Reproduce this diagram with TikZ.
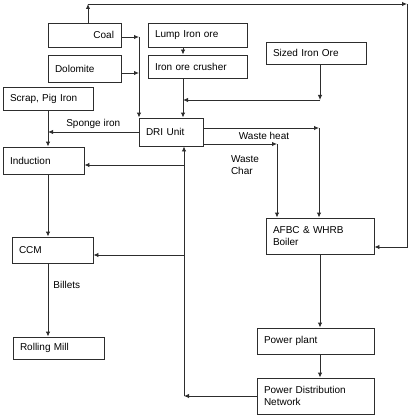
\documentclass[tikz,border=0pt]{standalone}
\usepackage{fontspec}
\setmainfont{Liberation Sans}
\usepackage{tikz}
\usetikzlibrary{positioning, arrows.meta, shapes}
\definecolor{tinta}{RGB}{45, 45, 45}
\tikzset{
    blk/.style={draw=tinta, rectangle, line width=0.9pt, inner xsep=7pt, inner ysep=0pt, align=left, text=black, font=\fontsize{10}{11.5}\selectfont},
    txt/.style={text=black, inner sep=1pt, align=left, font=\fontsize{10}{11.5}\selectfont},
    conn/.style={-{Latex[length=5pt,width=4.5pt]}, tinta, line width=0.9pt},
}
\begin{document}
\begin{tikzpicture}[x=1pt, y=-1pt]
        \useasboundingbox (0,0) rectangle (413,417);

        \node [blk, minimum width=73pt, minimum height=24pt, text width=59pt, align=right] (coal) at (84.5,35) {Coal};
        \node [blk, minimum width=73pt, minimum height=27pt, text width=59pt] (dolo) at (84.5,68.5) {Dolomite};
        \node [blk, minimum width=99pt, minimum height=24pt, text width=85pt] (lump) at (197.5,35) {Lump Iron ore};
        \node [blk, minimum width=99pt, minimum height=23pt, text width=85pt] (crush) at (197.5,66.5) {Iron ore crusher};
        \node [blk, minimum width=100pt, minimum height=22pt, text width=86pt] (sized) at (316,53) {Sized Iron Ore};
        \node [blk, minimum width=90pt, minimum height=23pt, text width=76pt] (scrap) at (48,98.5) {Scrap, Pig Iron};
        \node [blk, minimum width=64pt, minimum height=28pt, text width=50pt] (dri) at (171,132) {DRI Unit};
        \node [blk, minimum width=81pt, minimum height=27pt, text width=67pt] (induc) at (43.5,160.5) {Induction};
        \node [blk, minimum width=81pt, minimum height=26pt, text width=67pt] (ccm) at (52.5,250) {CCM};
        \node [blk, minimum width=91pt, minimum height=22pt, text width=77pt] (roll) at (58.5,348) {Rolling Mill};
        \node [blk, minimum width=108pt, minimum height=36pt, text width=94pt] (afbc) at (320,236) {AFBC \& WHRB\\Boiler};
        \node [blk, minimum width=117pt, minimum height=26pt, text width=103pt] (plant) at (315.5,341) {Power plant};
        \node [blk, minimum width=117pt, minimum height=36pt, text width=103pt] (pdn) at (315.5,396) {Power Distribution\\Network};

        \coordinate (tl) at (88,4);
        \coordinate (tr) at (407,4);
        \coordinate (br) at (407,247);
        \coordinate (feed) at (139,37);
        \coordinate (feedd) at (139,73);
        \coordinate (orein) at (183,100);
        \coordinate (sizedturn) at (320,100);
        \coordinate (heat) at (319,128);
        \coordinate (char) at (277,144);
        \coordinate (ret) at (184,396);
        \coordinate (retind) at (184,165);
        \coordinate (retccm) at (184,255);

        \node [txt] (txt1) at (264,136) {Waste heat};
        \node [txt] (txt2) at (245,165) {Waste\\Char};

        \draw [conn] (tl |- coal.north) -- (tl);
        \draw [conn] (tl) -- (tr);
        \draw [conn] (tr) -- (br) -- (br -| afbc.east);

        \draw [conn] (coal.east |- feed) -- (feed);
        \draw [conn] (dolo.east |- feedd) -- (feedd);
        \draw [conn] (feed) -- (feed |- dri.north);

        \draw [conn] (lump.south -| orein) -- (crush.north -| orein);
        \draw [conn] (crush.south -| orein) -- (dri.north -| orein);
        \draw [conn] (sized.south -| sizedturn) -- (sizedturn);
        \draw [conn] (sizedturn) -- (orein);

        \draw [conn] (scrap.south) -- (induc.north -| scrap.south);
        \draw [conn] (dri.west) -- (dri.west -| scrap.south) node [txt, midway, above=2pt] (txt3) {Sponge iron};

        \draw [conn] (dri.east |- heat) -- (heat);
        \draw [conn] (heat) -- (afbc.north -| heat);
        \draw [conn] (dri.east |- char) -- (char);
        \draw [conn] (char) -- (afbc.north -| char);

        \draw [conn] (afbc.south) -- (plant.north -| afbc.south);
        \draw [conn] (plant.south -| afbc.south) -- (pdn.north -| afbc.south);

        \draw [conn] (pdn.west) -- (ret);
        \draw [conn] (ret) -- (ret |- dri.south);
        \draw [conn] (retind) -- (retind -| induc.east);
        \draw [conn] (retccm) -- (retccm -| ccm.east);

        \draw [conn] (induc.south -| scrap.south) -- (ccm.north -| scrap.south);
        \draw [conn] (ccm.south -| scrap.south) -- (roll.north -| scrap.south) node [txt, pos=0.3, right=4pt] (txt4) {Billets};
    \end{tikzpicture}
\end{document}
